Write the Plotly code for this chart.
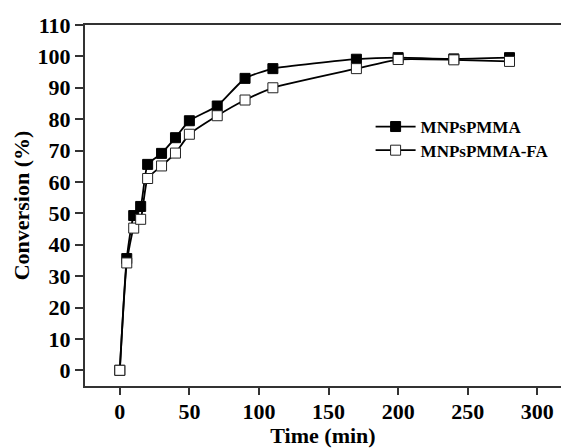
import plotly.graph_objects as go

time_min = [0, 5, 10, 15, 20, 30, 40, 50, 70, 90, 110, 170, 200, 240, 280]
conv_pmma = [0, 35.6, 49.3, 52.2, 65.6, 69.1, 74.1, 79.5, 84.2, 93.0, 96.1, 99.1, 99.6, 99.2, 99.6]
conv_pmma_fa = [0, 34.2, 45.3, 48.1, 61.1, 65.1, 69.2, 75.2, 81.1, 86.1, 90.0, 96.1, 99.0, 98.9, 98.4]

x_ticks = [0, 50, 100, 150, 200, 250, 300]
y_ticks = [0, 10, 20, 30, 40, 50, 60, 70, 80, 90, 100, 110]

font_family = "Liberation Serif"
axis_color = "#333333"

fig = go.Figure()
fig.add_trace(go.Scatter(
    x=time_min, y=conv_pmma, name="<b>MNPsPMMA</b>", mode="lines+markers",
    line=dict(color="black", width=1.8, shape="spline", smoothing=0.5),
    marker=dict(symbol="square", size=10, color="black", line=dict(color="black", width=1)),
    legend="legend",
))
fig.add_trace(go.Scatter(
    x=time_min, y=conv_pmma_fa, name="<b>MNPsPMMA-FA</b>", mode="lines+markers",
    line=dict(color="black", width=1.8, shape="spline", smoothing=0.5),
    marker=dict(symbol="square", size=10, color="white", line=dict(color="#222222", width=1)),
    legend="legend2",
))

legend_style = dict(
    x=0.6, xanchor="left", yanchor="middle",
    bgcolor="rgba(0,0,0,0)", font=dict(size=17, family=font_family, color="black"),
    itemwidth=40,
)

fig.update_layout(
    width=561, height=448,
    margin=dict(l=85, r=0, t=25, b=62, autoexpand=False),
    paper_bgcolor="white", plot_bgcolor="white",
    font=dict(family=font_family, color="black", size=22),
    showlegend=True,
    legend=dict(y=0.7175, **legend_style),
    legend2=dict(y=0.652, **legend_style),
    xaxis=dict(
        range=[-25, 317], tickvals=x_ticks, ticktext=[f"<b>{v}</b>" for v in x_ticks],
        tickfont=dict(size=22, family=font_family, color="black"),
        ticklabelstandoff=-2,
        showgrid=False, zeroline=False, showline=True, linecolor=axis_color, linewidth=2,
        mirror=True, ticks="outside", ticklen=7, tickwidth=1.5, tickcolor=axis_color,
        title=dict(text="<b>Time (min)</b>", font=dict(size=22), standoff=6),
    ),
    yaxis=dict(
        range=[-5, 110], tickvals=y_ticks, ticktext=[f"<b>{v}</b>" for v in y_ticks],
        tickfont=dict(size=22, family=font_family, color="black"),
        showgrid=False, zeroline=False, showline=True, linecolor=axis_color, linewidth=2,
        mirror=False, ticks="outside", ticklen=8, tickwidth=1.5, tickcolor=axis_color,
        title=dict(text="<b>Conversion (%)</b>", font=dict(size=22), standoff=2),
    ),
)

fig.write_html("out.html", config={"displayModeBar": False},
               post_script="document.body.style.margin='0';")
